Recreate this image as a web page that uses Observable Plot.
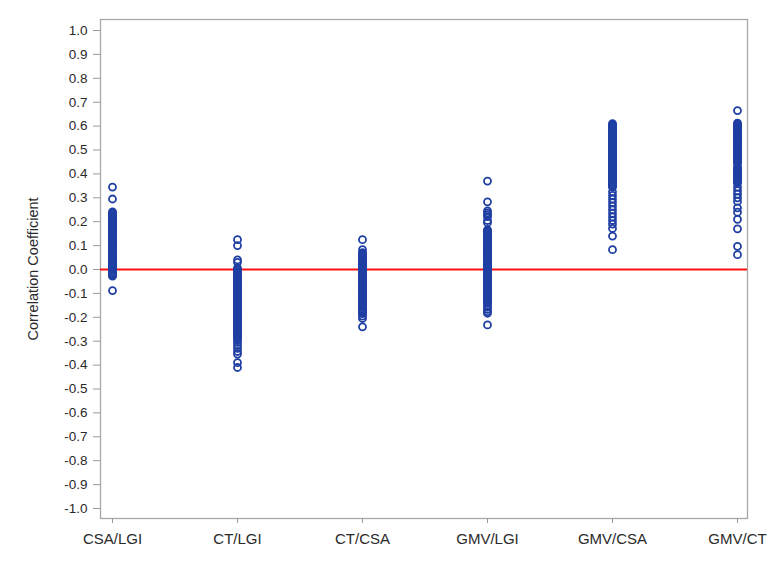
<!DOCTYPE html>
<html><head><meta charset="utf-8">
<script src="https://cdn.jsdelivr.net/npm/d3@7"></script>
<script src="https://cdn.jsdelivr.net/npm/@observablehq/plot@0.6"></script>
<style>
body{margin:0;background:#fff;}
#wrap{position:relative;width:778px;height:588px;overflow:hidden;}
#border{position:absolute;left:11px;top:6px;width:800px;height:600px;border-left:1px solid #d6d6d6;border-top:1px solid #d6d6d6;}
#chart{position:absolute;left:0;top:0;}
</style></head><body>
<div id="wrap"><div id="border"></div><div id="chart"></div></div>
<script>
const categories = ["CSA/LGI", "CT/LGI", "CT/CSA", "GMV/LGI", "GMV/CSA", "GMV/CT"];
const yTicks = [-1.0, -0.9, -0.8, -0.7, -0.6, -0.5, -0.4, -0.3, -0.2, -0.1, 0.0, 0.1, 0.2, 0.3, 0.4, 0.5, 0.6, 0.7, 0.8, 0.9, 1.0];
const yLabel = "Correlation Coefficient";

const csaLgi = [0.345, 0.295, 0.241, 0.236, 0.232, 0.226, 0.221, 0.217, 0.212, 0.207, 0.202, 0.198, 0.193, 0.189, 0.184, 0.178, 0.174, 0.169, 0.165, 0.16, 0.155, 0.151, 0.146, 0.142, 0.136, 0.132, 0.127, 0.122, 0.118, 0.113, 0.108, 0.104, 0.098, 0.094, 0.089, 0.085, 0.08, 0.075, 0.071, 0.066, 0.061, 0.057, 0.052, 0.047, 0.042, 0.038, 0.033, 0.028, 0.024, 0.019, 0.014, 0.009, 0.005, 0.0, -0.004, -0.009, -0.014, -0.019, -0.024, -0.028, -0.088];
const ctLgi = [0.125, 0.1, 0.04, 0.03, 0.006, 0.001, -0.004, -0.01, -0.015, -0.02, -0.025, -0.031, -0.036, -0.041, -0.046, -0.05, -0.056, -0.061, -0.066, -0.071, -0.077, -0.082, -0.087, -0.092, -0.097, -0.101, -0.107, -0.112, -0.117, -0.122, -0.128, -0.133, -0.138, -0.142, -0.148, -0.153, -0.158, -0.163, -0.169, -0.174, -0.178, -0.183, -0.189, -0.194, -0.199, -0.204, -0.209, -0.214, -0.219, -0.225, -0.23, -0.235, -0.24, -0.245, -0.251, -0.256, -0.261, -0.266, -0.27, -0.276, -0.281, -0.286, -0.295, -0.305, -0.318, -0.33, -0.343, -0.354, -0.39, -0.41];
const ctCsa = [0.125, 0.083, 0.07, 0.066, 0.06, 0.055, 0.051, 0.045, 0.041, 0.036, 0.03, 0.026, 0.021, 0.015, 0.011, 0.006, 0.0, -0.004, -0.009, -0.015, -0.019, -0.024, -0.03, -0.034, -0.039, -0.045, -0.05, -0.054, -0.06, -0.065, -0.069, -0.075, -0.08, -0.084, -0.09, -0.095, -0.099, -0.105, -0.11, -0.114, -0.12, -0.125, -0.129, -0.135, -0.14, -0.144, -0.15, -0.155, -0.159, -0.165, -0.17, -0.175, -0.18, -0.185, -0.195, -0.205, -0.24];
const gmvLgi = [0.37, 0.283, 0.245, 0.237, 0.229, 0.221, 0.205, 0.196, 0.166, 0.161, 0.156, 0.151, 0.146, 0.14, 0.135, 0.13, 0.125, 0.12, 0.114, 0.109, 0.104, 0.099, 0.094, 0.088, 0.083, 0.078, 0.073, 0.068, 0.062, 0.057, 0.052, 0.047, 0.042, 0.036, 0.031, 0.026, 0.021, 0.016, 0.01, 0.005, 0.0, -0.005, -0.01, -0.016, -0.021, -0.026, -0.031, -0.036, -0.042, -0.047, -0.052, -0.057, -0.062, -0.068, -0.073, -0.078, -0.083, -0.088, -0.094, -0.099, -0.104, -0.109, -0.114, -0.12, -0.125, -0.13, -0.135, -0.14, -0.15, -0.158, -0.167, -0.176, -0.183, -0.232];
const gmvCsa = [0.61, 0.606, 0.601, 0.597, 0.592, 0.587, 0.583, 0.578, 0.573, 0.569, 0.564, 0.559, 0.555, 0.55, 0.545, 0.541, 0.536, 0.531, 0.527, 0.522, 0.517, 0.513, 0.508, 0.503, 0.499, 0.494, 0.489, 0.485, 0.48, 0.475, 0.471, 0.466, 0.461, 0.457, 0.452, 0.447, 0.443, 0.438, 0.433, 0.429, 0.424, 0.419, 0.415, 0.41, 0.405, 0.401, 0.396, 0.391, 0.387, 0.382, 0.377, 0.373, 0.368, 0.363, 0.359, 0.354, 0.349, 0.345, 0.325, 0.31, 0.295, 0.28, 0.265, 0.25, 0.235, 0.22, 0.205, 0.19, 0.172, 0.14, 0.083];
const gmvCt = [0.665, 0.612, 0.607, 0.603, 0.598, 0.593, 0.589, 0.584, 0.579, 0.575, 0.57, 0.565, 0.561, 0.556, 0.551, 0.547, 0.542, 0.537, 0.533, 0.528, 0.523, 0.519, 0.514, 0.509, 0.505, 0.5, 0.495, 0.491, 0.486, 0.481, 0.477, 0.472, 0.467, 0.463, 0.458, 0.453, 0.449, 0.444, 0.428, 0.423, 0.419, 0.414, 0.409, 0.405, 0.4, 0.395, 0.391, 0.386, 0.381, 0.377, 0.372, 0.367, 0.362, 0.345, 0.33, 0.315, 0.3, 0.285, 0.258, 0.24, 0.21, 0.17, 0.097, 0.062];

const seriesValues = [csaLgi, ctLgi, ctCsa, gmvLgi, gmvCsa, gmvCt];
const data = categories.flatMap((pair, i) => seriesValues[i].map(r => ({pair, r})));

const plot = Plot.plot({
  width: 778,
  height: 588,
  marginLeft: 100,
  marginRight: 31,
  marginTop: 19,
  marginBottom: 70,
  insetLeft: 10,
  insetRight: 9,
  insetTop: 11,
  insetBottom: 10,
  style: {fontFamily: "Liberation Sans, Arial, sans-serif", background: "#fff", color: "#222"},
  x: {type: "point", domain: categories, padding: 0},
  y: {domain: [-1, 1]},
  marks: [
    Plot.frame({stroke: "#a8a8a8", strokeWidth: 1.3}),
    Plot.axisY({ticks: yTicks, tickFormat: d => d.toFixed(1), tickSize: 7, tickPadding: 6, fontSize: 13.5, stroke: "#999", fill: "#2a2a2a", label: null}),
    Plot.axisX({tickSize: 5, tickPadding: 10, fontSize: 15, stroke: "#999", fill: "#2a2a2a", label: null}),
    Plot.text([yLabel], {text: d => d, frameAnchor: "left", textAnchor: "middle", rotate: -90, dx: -67, fontSize: 14.5, fill: "#2a2a2a"}),
    Plot.ruleY([0], {stroke: "#ff1010", strokeWidth: 2}),
    Plot.dot(data, {x: "pair", y: "r", r: 3.5, stroke: "#1f3fa3", strokeWidth: 1.8, fill: "none"})
  ]
});
document.getElementById("chart").appendChild(plot);
</script>
</body></html>
